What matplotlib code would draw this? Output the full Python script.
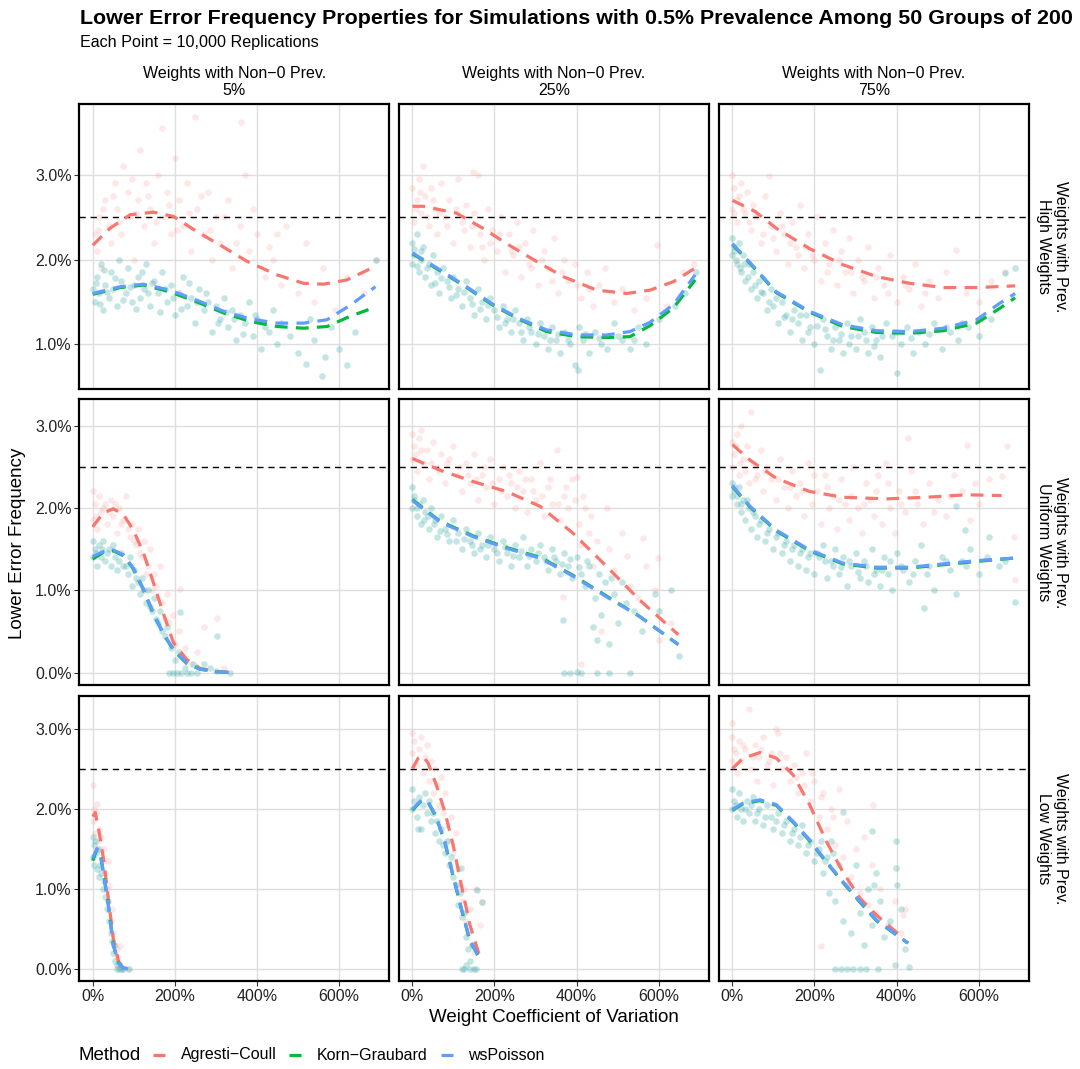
import numpy as np
import matplotlib
matplotlib.use("Agg")
import matplotlib.pyplot as plt
from matplotlib.lines import Line2D

plt.rcParams['font.family'] = ['Liberation Sans', 'DejaVu Sans']

# ---------------- DATA ----------------
methods = ["Agresti\u2212Coull", "Korn\u2212Graubard", "wsPoisson"]
col_labels = ["Weights with Non\u22120 Prev.\n5%", "Weights with Non\u22120 Prev.\n25%", "Weights with Non\u22120 Prev.\n75%"]
row_labels = ["Weights with Prev.\nHigh Weights", "Weights with Prev.\nUniform Weights", "Weights with Prev.\nLow Weights"]
x_ticks = [0, 200, 400, 600]
x_ticklabels = ["0%", "200%", "400%", "600%"]
y_ticks_rows = [[1, 2, 3], [0, 1, 2, 3], [0, 1, 2, 3]]
target_level = 2.5

# scatter points (x = weight CV in %, y = lower error frequency in %); KW = Korn-Graubard / wsPoisson (overlapping)
AC_11 = [(5,2.3),(10,2.1),(15,2.5),(20,1.9),(30,2.7),(40,2.4),(45,2.2),(55,2.9),(60,2.6),(70,2.3),(75,3.1),(85,2.8),(90,2.5),(100,2.0),(110,2.7),(115,3.3),(125,2.4),(130,2.9),(140,2.6),(150,2.2),(160,3.0),(170,3.55),(175,2.5),(180,2.8),(190,2.3),(200,3.2),(210,2.7),(220,2.4),(230,2.9),(240,2.1),(250,3.69),(255,2.6),(270,2.3),(280,2.8),(290,2.0),(300,2.5),(310,2.2),(330,2.7),(340,1.9),(362,3.63),(360,2.4),(370,3.0),(380,2.1),(400,2.3),(420,1.8),(440,2.0),(460,1.7),(470,2.4),(500,1.6),(520,2.2),(540,1.5),(560,1.9),(590,1.4),(620,1.8),(660,1.6),(690,2.0),
         (12,2.35),(25,2.6),(50,2.75),(65,2.45),(95,2.95),(105,2.55),(135,2.75),(155,2.45),(185,2.65),(205,2.35),(235,2.55),(265,2.75),(285,2.35),(320,2.5),(350,2.2),(390,2.6),(430,2.15),(450,2.3)]
KW_11 = [(0,1.65),(5,1.5),(10,1.8),(15,1.6),(20,1.95),(25,1.4),(30,1.7),(40,1.55),(45,1.85),(50,1.65),(60,1.45),(65,2.0),(70,1.75),(80,1.6),(85,1.9),(95,1.5),(100,1.7),(110,1.8),(115,1.55),(125,1.65),(130,1.95),(140,1.45),(150,1.75),(160,1.6),(170,1.85),(180,1.5),(190,1.7),(200,1.35),(210,1.6),(220,1.8),(230,1.45),(240,1.55),(250,1.25),(260,1.65),(270,1.4),(280,1.5),(290,1.15),(300,1.45),(310,1.3),(320,1.55),(330,1.2),(340,1.4),(350,1.05),(360,1.35),(370,1.25),(380,1.5),(390,1.1),(400,1.3),(410,0.95),(420,1.2),(440,1.4),(450,1.0),(460,1.25),(480,1.1),(500,0.9),(520,0.77),(530,1.3),(540,1.05),(559,0.63),(565,0.85),(580,1.2),(600,0.95),(620,0.75),(640,1.15),(690,2.0),
         (8,1.72),(18,1.48),(28,1.88),(35,1.62),(55,1.78),(75,1.52),(90,1.68),(105,1.42),(120,1.85),(135,1.6),(145,1.72),(165,1.38),(175,1.65),(195,1.55),(215,1.42),(235,1.72),(255,1.5),(275,1.6),(305,1.25),(325,1.38),(345,1.3),(365,1.12),(395,1.35),(430,1.15)]
AC_12 = [(0,2.85),(5,2.45),(10,2.7),(15,2.95),(20,2.55),(26,3.1),(30,2.75),(40,2.4),(45,2.85),(55,2.6),(60,2.3),(70,2.9),(80,2.5),(90,2.7),(100,2.2),(110,2.95),(120,2.45),(130,2.65),(140,2.15),(148,3.03),(150,2.55),(160,3.0),(165,2.3),(175,2.0),(185,2.6),(195,2.35),(205,2.1),(215,2.5),(225,1.85),(235,2.3),(245,2.05),(255,2.45),(265,1.8),(275,2.2),(285,1.95),(295,2.35),(305,1.7),(320,2.1),(330,1.9),(345,2.25),(355,1.6),(370,2.0),(380,1.75),(395,1.95),(410,1.55),(425,1.85),(440,1.45),(455,1.7),(470,1.9),(490,1.5),(510,1.65),(540,1.4),(570,1.55),(595,2.17),(620,1.45),(660,1.85),(685,1.95),
         (8,2.6),(18,2.8),(35,2.5),(50,2.7),(65,2.55),(85,2.4),(105,2.6),(125,2.35),(145,2.4),(170,2.15),(190,2.2),(210,2.3),(240,2.1),(260,2.15),(290,1.9),(315,2.0),(340,1.75),(365,1.85),(400,1.7),(430,1.65)]
KW_12 = [(0,2.2),(0,1.95),(5,2.05),(10,2.3),(15,1.85),(20,2.0),(25,2.15),(30,1.8),(40,1.95),(45,1.7),(50,2.05),(60,1.85),(65,1.6),(75,1.9),(85,1.75),(95,1.55),(100,1.8),(110,1.65),(120,1.45),(130,1.75),(140,1.55),(150,1.35),(160,1.65),(170,1.5),(180,1.3),(190,1.55),(200,1.4),(210,1.2),(220,1.45),(230,1.3),(240,1.15),(250,1.4),(260,1.25),(270,1.05),(280,1.3),(290,1.15),(300,1.0),(310,1.25),(320,1.1),(330,0.95),(340,1.2),(350,1.05),(360,0.9),(370,1.15),(385,1.0),(395,0.75),(404,0.7),(405,1.2),(415,1.05),(430,0.9),(445,1.15),(460,1.0),(475,0.95),(490,1.25),(510,1.05),(530,0.95),(550,1.2),(570,1.0),(600,1.3),(640,1.45),(665,1.6),(690,1.85),
         (3,2.12),(12,1.92),(22,2.1),(35,1.9),(55,1.72),(70,1.78),(90,1.68),(105,1.58),(125,1.62),(145,1.48),(165,1.42),(185,1.46),(205,1.32),(225,1.25),(245,1.3),(265,1.15),(285,1.2),(305,1.12),(335,1.05),(355,1.12),(380,1.05),(420,1.12),(455,1.08),(500,1.1),(540,1.05)]
AC_13 = [(0,3.0),(0,2.6),(5,2.85),(10,2.45),(15,2.75),(20,2.9),(30,2.55),(35,2.8),(45,2.35),(50,2.65),(60,2.5),(70,2.2),(80,2.75),(90,2.99),(95,2.4),(105,2.1),(115,2.55),(125,2.3),(135,1.95),(145,2.45),(155,2.15),(165,2.65),(175,1.9),(185,2.3),(195,2.05),(205,2.5),(215,1.75),(225,2.2),(235,1.95),(245,2.35),(255,1.7),(265,2.1),(275,1.85),(285,2.25),(295,1.6),(305,2.0),(315,1.8),(330,2.15),(345,1.55),(355,1.9),(370,1.7),(385,2.05),(400,1.5),(415,1.8),(430,1.65),(445,1.95),(460,1.45),(480,1.75),(500,1.55),(520,1.85),(546,2.11),(570,1.6),(600,1.5),(630,1.75),(665,1.85),
         (3,2.55),(12,2.7),(25,2.6),(40,2.45),(55,2.55),(75,2.3),(100,2.25),(120,2.4),(140,2.2),(160,2.05),(180,2.15),(200,2.0),(230,1.85),(260,2.0),(290,1.85),(320,1.75),(350,1.8),(380,1.6),(420,1.7),(470,1.6)]
KW_13 = [(0,2.25),(0,2.05),(5,2.15),(10,1.95),(15,2.2),(20,1.85),(25,2.05),(30,1.75),(40,1.95),(45,1.65),(50,1.85),(60,1.55),(65,1.75),(75,1.6),(85,1.4),(95,1.65),(100,1.45),(110,1.25),(120,1.5),(130,1.35),(140,1.15),(150,1.4),(160,1.25),(170,1.05),(180,1.35),(190,1.2),(200,1.0),(213,0.7),(220,1.3),(230,1.1),(240,0.95),(250,1.2),(260,1.05),(270,0.9),(280,1.25),(290,1.1),(300,0.95),(310,1.3),(320,1.15),(330,0.9),(340,1.2),(350,1.05),(360,0.85),(375,1.25),(390,1.1),(400,0.66),(410,1.0),(425,1.2),(440,0.9),(455,1.15),(470,1.0),(490,1.25),(510,0.95),(530,1.15),(550,1.05),(575,1.2),(600,1.1),(630,1.3),(665,1.84),(689,1.9),
         (3,2.1),(8,2.0),(18,1.9),(28,1.95),(38,1.8),(55,1.7),(70,1.62),(90,1.5),(105,1.55),(125,1.32),(145,1.3),(165,1.35),(185,1.15),(205,1.22),(225,1.18),(245,1.05),(265,1.12),(285,1.0),(305,1.1),(325,1.05),(345,0.98),(365,1.1),(395,1.15),(435,1.08),(480,1.12),(520,1.2),(560,1.25)]
AC_21 = [(0,2.2),(0,1.85),(5,2.05),(10,1.75),(15,2.15),(20,1.95),(30,2.05),(35,1.8),(45,2.1),(50,1.9),(60,1.7),(65,2.0),(75,1.85),(80,2.15),(90,1.65),(95,1.8),(105,1.55),(110,1.75),(120,1.4),(125,1.6),(135,1.3),(140,1.5),(150,1.2),(155,1.05),(165,1.3),(170,0.85),(180,0.95),(185,0.6),(195,0.7),(200,0.35),(210,0.5),(213,1.01),(215,0.2),(225,0.3),(240,0.1),(255,0.25),(270,0.55),(302,0.66),(320,0.05),
         (8,1.9),(25,2.0),(40,1.95),(55,2.05),(70,1.8),(85,1.75),(100,1.6),(115,1.45),(130,1.2),(145,1.0),(160,0.9),(175,0.65)]
KW_21 = [(0,1.6),(0,1.4),(5,1.5),(10,1.3),(15,1.55),(20,1.4),(25,1.6),(30,1.35),(40,1.5),(45,1.3),(50,1.55),(55,1.4),(60,1.25),(70,1.45),(75,1.3),(85,1.2),(90,1.4),(95,1.05),(100,1.25),(110,1.1),(115,0.95),(120,1.15),(130,0.85),(135,1.0),(145,0.75),(150,0.9),(160,0.6),(165,0.75),(175,0.45),(180,0.55),(185,0.0),(190,0.3),(195,0.0),(200,0.15),(205,0.0),(210,0.25),(213,0.74),(215,0.0),(225,0.05),(230,0.0),(240,0.0),(245,0.1),(255,0.0),(270,0.1),(285,0.05),(300,0.02),(302,0.44),(335,0.0),
         (8,1.45),(22,1.5),(35,1.45),(65,1.35),(80,1.3),(105,1.15),(125,1.0),(140,0.8),(155,0.65),(170,0.5)]
AC_22 = [(0,2.9),(0,2.6),(5,2.75),(10,2.45),(15,2.85),(20,2.95),(25,2.55),(35,2.7),(40,2.35),(50,2.8),(60,2.5),(70,2.65),(80,2.3),(90,2.6),(100,2.75),(110,2.4),(120,2.2),(130,2.55),(140,2.3),(150,2.65),(160,2.1),(170,2.4),(180,2.25),(190,2.6),(200,2.05),(210,2.35),(220,2.5),(230,2.15),(240,2.3),(250,2.0),(260,2.45),(270,2.2),(280,1.95),(290,2.35),(300,2.1),(310,2.55),(320,1.9),(330,2.25),(340,2.05),(353,2.71),(360,1.85),(367,0.92),(370,2.15),(380,2.0),(390,2.35),(400,2.38),(405,1.8),(410,1.55),(412,0.1),(420,2.0),(430,1.7),(440,1.3),(450,1.6),(460,0.5),(473,2.0),(480,1.5),(490,1.25),(510,1.7),(522,1.41),(530,1.05),(550,0.9),(562,1.63),(570,1.3),(590,1.0),(598,1.39),(600,0.4),(630,0.6),
         (8,2.65),(22,2.7),(45,2.55),(65,2.45),(85,2.55),(115,2.5),(135,2.4),(155,2.35),(175,2.5),(195,2.3),(215,2.2),(235,2.4),(255,2.25),(275,2.35),(295,2.2),(315,2.15),(335,2.35),(355,2.05),(375,2.25),(395,2.1),(415,2.15),(435,1.9)]
KW_22 = [(0,2.25),(0,2.0),(5,2.15),(10,1.9),(15,2.05),(20,1.8),(25,2.1),(30,1.95),(40,1.75),(45,2.0),(55,1.85),(60,1.65),(70,1.9),(80,1.75),(90,1.6),(100,1.85),(110,1.7),(120,1.5),(130,1.75),(140,1.6),(150,1.45),(160,1.7),(170,1.55),(180,1.4),(190,1.65),(200,1.5),(210,1.35),(220,1.6),(230,1.45),(240,1.3),(250,1.55),(260,1.4),(270,1.65),(280,1.3),(290,1.5),(300,1.35),(310,1.55),(320,1.4),(330,1.25),(340,1.5),(350,1.35),(360,1.2),(367,0.64),(370,1.45),(380,1.3),(390,1.15),(400,1.4),(410,1.2),(420,1.05),(430,1.3),(440,0.55),(445,0.9),(450,0.4),(460,0.7),(470,1.1),(480,0.35),(490,0.95),(500,0.6),(520,0.85),(540,0.75),(560,0.5),(590,0.95),(600,0.75),(630,1.0),(650,0.2),(370,0.0),(385,0.0),(400,0.01),(410,0.0),(450,0.0),(480,0.0),(530,0.0),
         (3,2.1),(12,2.0),(28,1.85),(38,1.9),(52,1.8),(68,1.72),(85,1.68),(105,1.6),(125,1.62),(145,1.55),(165,1.5),(185,1.55),(205,1.45),(225,1.52),(245,1.42),(265,1.48),(285,1.42),(305,1.45),(325,1.35),(345,1.4),(365,1.32),(385,1.38),(405,1.28),(425,1.35),(455,1.2),(485,1.15),(510,1.1)]
AC_23 = [(0,2.8),(0,2.5),(5,2.65),(10,2.9),(15,2.4),(20,3.0),(25,2.6),(35,2.75),(40,2.3),(46,3.16),(50,2.55),(60,2.4),(70,2.7),(75,2.2),(85,2.5),(95,2.35),(105,2.1),(115,2.6),(125,2.25),(135,2.0),(145,2.45),(155,2.15),(165,2.3),(175,1.9),(185,2.55),(195,2.05),(205,2.2),(215,1.8),(225,2.4),(235,2.0),(245,2.15),(255,1.75),(265,2.35),(275,2.05),(285,1.85),(295,2.5),(305,2.0),(315,1.7),(325,2.3),(335,2.1),(345,1.9),(355,2.4),(365,1.8),(375,2.55),(385,2.0),(395,1.7),(405,2.2),(420,1.95),(428,2.85),(435,2.45),(450,2.05),(465,1.8),(480,2.3),(500,2.1),(520,1.9),(540,2.4),(560,2.2),(571,2.77),(580,1.85),(600,2.05),(625,2.35),(656,2.39),(670,2.75),(685,1.65),(689,1.12),
         (8,2.75),(18,2.55),(30,2.45),(55,2.35),(80,2.45),(110,2.35),(140,2.25),(170,2.2),(200,2.4),(230,2.25),(260,2.1),(290,2.15),(320,2.05),(350,2.2),(380,2.3),(410,2.05),(445,2.2),(490,1.95),(530,2.15),(590,2.3)]
KW_23 = [(0,2.3),(0,2.15),(5,2.2),(10,2.05),(15,2.25),(20,1.95),(25,2.1),(30,1.85),(40,2.0),(45,1.75),(55,1.9),(60,1.65),(70,1.85),(80,1.6),(90,1.75),(100,1.5),(110,1.7),(120,1.45),(130,1.6),(140,1.35),(150,1.55),(160,1.3),(170,1.5),(180,1.25),(190,1.45),(200,1.2),(210,1.4),(220,1.55),(230,1.15),(240,1.35),(250,1.5),(260,1.2),(270,1.4),(280,1.05),(290,1.3),(300,1.45),(310,1.15),(320,1.35),(330,1.1),(340,1.5),(350,1.25),(360,1.05),(370,1.4),(380,1.2),(390,1.0),(400,1.45),(415,1.25),(430,1.1),(445,1.35),(460,1.55),(467,0.78),(475,1.2),(490,1.0),(510,1.4),(530,1.25),(545,0.95),(546,2.02),(560,1.35),(566,1.73),(580,1.5),(600,1.2),(625,1.65),(650,1.3),(665,1.35),(689,0.86),
         (3,2.25),(12,2.15),(22,2.05),(35,2.1),(50,1.95),(65,1.8),(85,1.7),(105,1.65),(125,1.55),(145,1.5),(165,1.45),(185,1.4),(205,1.45),(225,1.35),(245,1.3),(265,1.28),(285,1.35),(305,1.22),(325,1.3),(345,1.2),(365,1.25),(385,1.35),(410,1.3),(440,1.2),(480,1.3),(520,1.35),(570,1.3),(620,1.4)]
AC_31 = [(0,2.3),(0,1.85),(3,2.0),(5,1.7),(8,1.95),(11,2.06),(12,1.6),(15,1.75),(18,1.5),(20,1.65),(25,1.35),(28,1.5),(30,1.2),(35,1.0),(38,1.34),(40,1.05),(45,0.6),(48,0.75),(50,0.45),(55,0.3),(58,0.15),(60,0.25),(65,0.05),(66,0.29),(75,0.0),(85,0.0)]
KW_31 = [(0,1.65),(0,1.4),(2,1.55),(4,1.3),(6,1.6),(8,1.45),(10,1.25),(12,1.5),(15,1.15),(18,1.3),(20,1.2),(25,1.0),(28,1.1),(30,0.9),(35,0.75),(38,0.85),(40,0.6),(45,0.45),(48,0.35),(50,0.2),(52,0.3),(55,0.1),(58,0.0),(60,0.05),(65,0.0),(70,0.0),(75,0.0),(88,0.0)]
AC_32 = [(0,2.95),(0,2.7),(5,2.85),(10,2.55),(15,2.75),(20,2.9),(25,2.45),(30,2.65),(35,2.8),(40,2.35),(45,2.6),(50,2.2),(55,2.5),(60,2.3),(65,2.05),(70,2.4),(75,1.95),(80,2.2),(85,1.8),(90,1.6),(95,1.9),(100,1.45),(105,1.7),(110,1.25),(115,1.05),(120,0.85),(125,1.0),(130,0.6),(135,0.45),(140,0.75),(145,0.3),(150,0.2),(156,1.0),(165,0.55),(170,0.83)]
KW_32 = [(0,2.25),(0,2.0),(5,2.1),(10,1.9),(14,1.75),(15,2.15),(20,1.75),(25,2.05),(30,2.2),(35,1.95),(40,2.1),(45,1.85),(50,1.95),(55,1.7),(60,1.85),(65,1.6),(70,1.75),(75,1.55),(80,1.45),(85,1.6),(90,1.3),(95,1.4),(100,1.15),(105,1.05),(110,0.8),(115,0.95),(119,1.26),(120,0.65),(125,0.7),(130,0.4),(135,0.25),(140,0.1),(145,0.3),(157,0.98),(170,0.83),(120,0.0),(125,0.0),(130,0.05),(140,0.0),(150,0.0),(155,0.0)]
AC_33 = [(0,2.9),(0,2.6),(0,3.07),(5,2.75),(10,2.45),(15,2.85),(20,2.6),(30,2.75),(40,3.25),(45,2.5),(55,2.8),(60,2.35),(65,2.65),(75,2.9),(85,2.55),(95,2.7),(100,2.3),(107,3.0),(110,2.95),(120,2.5),(130,2.65),(140,2.35),(150,2.55),(160,2.2),(170,2.45),(180,2.7),(190,2.1),(200,2.35),(210,1.9),(217,0.28),(220,2.2),(230,1.75),(240,2.0),(250,1.55),(260,2.25),(270,1.4),(280,1.85),(290,1.15),(300,1.5),(310,0.95),(320,1.65),(330,0.8),(340,1.3),(343,2.05),(350,0.7),(360,1.0),(380,0.55),(395,0.85),(410,0.45),(416,0.67),(420,0.75),
         (8,2.7),(25,2.8),(50,2.65),(70,2.75),(90,2.6),(115,2.7),(135,2.5),(155,2.4),(175,2.3),(195,2.45),(215,2.15),(245,1.9)]
KW_33 = [(0,2.25),(0,2.0),(5,2.1),(10,1.9),(15,2.2),(20,2.0),(25,1.85),(35,2.1),(40,1.95),(50,2.15),(55,1.85),(65,2.0),(75,1.8),(85,2.05),(95,1.9),(100,1.75),(110,1.95),(120,1.7),(130,1.85),(140,1.6),(150,1.75),(160,1.55),(170,1.8),(180,1.45),(190,1.6),(200,1.35),(210,1.5),(220,1.2),(230,1.4),(235,0.95),(240,1.6),(250,0.85),(260,1.3),(270,1.96),(270,0.6),(280,1.05),(290,0.45),(300,1.3),(310,0.7),(320,0.3),(330,1.0),(339,1.72),(340,0.55),(344,1.05),(350,1.2),(360,0.85),(370,0.4),(385,0.6),(398,1.59),(398,1.26),(400,1.05),(410,0.75),(420,0.25),(430,0.02),(250,0.0),(265,0.0),(280,0.0),(295,0.0),(310,0.0),(325,0.0),(355,0.0),(395,0.05),
         (8,2.05),(30,2.0),(45,2.05),(60,1.95),(80,1.9),(105,1.85),(125,1.8),(145,1.7),(165,1.65),(185,1.55),(205,1.45),(215,1.6),(225,1.35),(245,1.45)]

# smoothed fits (x knots, y values) per panel: AC, KG, WS
AC_fit_11 = ([0,42,91,148,197,254,311,376,449,514,562,619,680,690], [2.17,2.37,2.53,2.56,2.51,2.33,2.17,1.98,1.82,1.72,1.71,1.76,1.90,1.93])
KG_fit_11 = ([0,67,124,188,254,319,384,449,514,571,627,689], [1.59,1.67,1.70,1.62,1.50,1.37,1.27,1.21,1.19,1.21,1.33,1.44])
WS_fit_11 = ([0,67,124,188,254,319,384,449,514,571,627,689], [1.60,1.68,1.71,1.64,1.52,1.39,1.30,1.25,1.25,1.29,1.46,1.68])
AC_fit_12 = ([0,26,107,172,229,302,367,449,522,579,636,689], [2.63,2.63,2.55,2.37,2.19,1.98,1.80,1.64,1.60,1.64,1.74,1.90])
KG_fit_12 = ([0,67,132,197,262,327,400,473,530,579,636,689], [2.07,1.87,1.67,1.46,1.29,1.15,1.09,1.08,1.09,1.22,1.43,1.76])
WS_fit_12 = ([0,67,132,197,262,327,400,473,530,579,636,689], [2.08,1.88,1.68,1.47,1.30,1.17,1.11,1.11,1.15,1.26,1.47,1.82])
AC_fit_13 = ([0,55,107,188,269,351,432,514,595,689], [2.70,2.57,2.37,2.13,1.94,1.80,1.72,1.67,1.67,1.69])
KG_fit_13 = ([0,55,107,188,269,351,432,514,595,650,689], [2.18,1.89,1.61,1.38,1.21,1.14,1.13,1.16,1.25,1.42,1.55])
WS_fit_13 = ([0,55,107,188,269,351,432,514,595,650,689], [2.19,1.90,1.62,1.39,1.23,1.16,1.15,1.19,1.29,1.48,1.60])
AC_fit_21 = ([0,26,50,75,99,124,148,172,197,229,262,303,335], [1.77,1.94,1.99,1.92,1.73,1.45,1.09,0.72,0.36,0.16,0.05,0.01,0.0])
KG_fit_21 = ([0,26,50,75,99,124,148,172,197,229,262,303,335], [1.38,1.46,1.48,1.42,1.26,1.00,0.71,0.47,0.27,0.11,0.04,0.01,0.0])
WS_fit_21 = ([0,26,50,75,99,124,148,172,197,229,262,303,335], [1.41,1.47,1.49,1.43,1.27,1.01,0.72,0.48,0.28,0.12,0.04,0.01,0.0])
AC_fit_22 = ([0,67,148,229,311,392,473,554,648], [2.60,2.46,2.32,2.20,2.02,1.69,1.29,0.88,0.46])
KG_fit_22 = ([0,67,148,229,311,392,473,554,648], [2.10,1.84,1.66,1.52,1.40,1.18,0.93,0.68,0.34])
WS_fit_22 = ([0,67,148,229,311,392,473,554,648], [2.09,1.83,1.65,1.51,1.39,1.17,0.92,0.68,0.34])
AC_fit_23 = ([0,43,107,188,269,375,473,571,656], [2.77,2.58,2.36,2.20,2.13,2.11,2.13,2.16,2.15])
KG_fit_23 = ([0,43,107,188,269,351,432,514,595,685], [2.26,2.01,1.72,1.48,1.32,1.27,1.27,1.31,1.35,1.39])
WS_fit_23 = ([0,43,107,188,269,351,432,514,595,685], [2.27,2.02,1.73,1.49,1.33,1.28,1.28,1.32,1.36,1.39])
AC_fit_31 = ([0,6,14,26,38,50,63,75,87], [1.90,1.95,1.76,1.38,0.88,0.38,0.09,0.02,0.0])
KG_fit_31 = ([0,10,18,26,38,50,63,75,87], [1.35,1.49,1.44,1.20,0.80,0.30,0.07,0.01,0.0])
WS_fit_31 = ([0,10,18,26,38,50,63,75,87], [1.38,1.50,1.45,1.21,0.80,0.30,0.07,0.01,0.0])
AC_fit_32 = ([0,14,25,38,58,79,99,119,140,168], [2.50,2.63,2.66,2.57,2.30,1.96,1.55,1.05,0.55,0.09])
KG_fit_32 = ([0,22,38,58,79,99,119,140,168], [1.98,2.10,2.08,1.89,1.58,1.16,0.75,0.35,0.09])
WS_fit_32 = ([0,22,38,58,79,99,119,140,168], [1.99,2.11,2.09,1.90,1.59,1.17,0.76,0.36,0.09])
AC_fit_33 = ([0,26,67,107,148,188,229,269,311,351,408], [2.50,2.63,2.70,2.63,2.42,2.05,1.59,1.21,0.88,0.67,0.42])
KG_fit_33 = ([0,26,67,107,148,188,229,269,311,351,428], [1.98,2.06,2.10,2.04,1.83,1.60,1.33,1.08,0.83,0.60,0.32])
WS_fit_33 = ([0,26,67,107,148,188,229,269,311,351,428], [1.99,2.07,2.11,2.05,1.84,1.61,1.34,1.09,0.84,0.61,0.32])

points = {
    (0, 0): (AC_11, KW_11), (0, 1): (AC_12, KW_12), (0, 2): (AC_13, KW_13),
    (1, 0): (AC_21, KW_21), (1, 1): (AC_22, KW_22), (1, 2): (AC_23, KW_23),
    (2, 0): (AC_31, KW_31), (2, 1): (AC_32, KW_32), (2, 2): (AC_33, KW_33),
}
fits = {
    (0, 0): (AC_fit_11, KG_fit_11, WS_fit_11), (0, 1): (AC_fit_12, KG_fit_12, WS_fit_12), (0, 2): (AC_fit_13, KG_fit_13, WS_fit_13),
    (1, 0): (AC_fit_21, KG_fit_21, WS_fit_21), (1, 1): (AC_fit_22, KG_fit_22, WS_fit_22), (1, 2): (AC_fit_23, KG_fit_23, WS_fit_23),
    (2, 0): (AC_fit_31, KG_fit_31, WS_fit_31), (2, 1): (AC_fit_32, KG_fit_32, WS_fit_32), (2, 2): (AC_fit_33, KG_fit_33, WS_fit_33),
}

# ---------------- STYLE / LAYOUT ----------------
colors = ["#F8766D", "#00BA38", "#619CFF"]
W, H = 1080, 1069
fig = plt.figure(figsize=(W / 100, H / 100), dpi=100)
fig.patch.set_facecolor("white")

col_left = [79.3, 399.0, 719.0]
panel_w = 310.0
row_top = [104.0, 399.3, 695.7]
panel_h = [285.0, 286.0, 285.5]
ylims = [(0.472, 3.838), (-0.155, 3.32), (-0.155, 3.41)]
xlim = (-32.7, 722.7)
grid_col = "#DEDEDE"

for r in range(3):
    for c in range(3):
        rect = [col_left[c] / W, 1 - (row_top[r] + panel_h[r]) / H, panel_w / W, panel_h[r] / H]
        ax = fig.add_axes(rect)
        ax.set_xlim(*xlim)
        ax.set_ylim(*ylims[r])
        ax.set_xticks(x_ticks)
        ax.set_yticks(y_ticks_rows[r])
        ax.grid(True, color=grid_col, linewidth=1.0, zorder=0)
        ax.set_axisbelow(True)
        for s in ax.spines.values():
            s.set_linewidth(1.6)
            s.set_color("black")
            s.set_zorder(10)
        if c == 0:
            ax.set_yticklabels([f"{v:.1f}%" for v in y_ticks_rows[r]], fontsize=11.5, color="#222222")
            ax.tick_params(axis="y", length=3.5, width=0.8, color="#333333", pad=2)
        else:
            ax.tick_params(axis="y", length=0, labelleft=False)
        if r == 2:
            ax.set_xticklabels(x_ticklabels, fontsize=11.5, color="#222222")
            ax.tick_params(axis="x", length=3.5, width=0.8, color="#333333", pad=2)
        else:
            ax.tick_params(axis="x", length=0, labelbottom=False)

        ac_pts, kw_pts = points[(r, c)]
        ac = np.array(ac_pts)
        kw = np.array(kw_pts)
        ax.scatter(ac[:, 0], ac[:, 1], s=22, color=colors[0], alpha=0.16, linewidths=0, zorder=2)
        ax.scatter(kw[:, 0], kw[:, 1], s=22, color=colors[1], alpha=0.16, linewidths=0, zorder=2)
        ax.scatter(kw[:, 0], kw[:, 1], s=22, color=colors[2], alpha=0.16, linewidths=0, zorder=2)

        ax.axhline(target_level, color="black", linewidth=1.0, linestyle=(0, (4.5, 3.5)), zorder=3)

        for k, (fx, fy) in enumerate(fits[(r, c)]):
            ax.plot(fx, fy, color=colors[k], linewidth=2.3, linestyle=(0, (4.0, 2.6)),
                    solid_capstyle="butt", dash_capstyle="butt", zorder=4 + k)

        if r == 0:
            ax.text(0.5, 1.0 + 22 / panel_h[r], col_labels[c], transform=ax.transAxes,
                    ha="center", va="center", fontsize=11.5, linespacing=1.2)
        if c == 2:
            ax.text(1.0 + 23 / panel_w, 0.5, row_labels[r], transform=ax.transAxes,
                    ha="center", va="center", rotation=-90, fontsize=11.5, linespacing=1.2)

# titles
fig.text(80 / W, 1 - 19 / H, "Lower Error Frequency Properties for Simulations with 0.5% Prevalence Among 50 Groups of 200",
         ha="left", va="center", fontsize=15.4, fontweight="bold")
fig.text(80 / W, 1 - 43 / H, "Each Point = 10,000 Replications", ha="left", va="center", fontsize=11.6)
fig.text(18 / W, 1 - 543 / H, "Lower Error Frequency", ha="center", va="center", rotation=90, fontsize=13.5)
fig.text(554 / W, 1 - 1017 / H, "Weight Coefficient of Variation", ha="center", va="center", fontsize=13.5)

# legend
ly = 1 - 1055 / H
fig.text(79 / W, ly, "Method", ha="left", va="center", fontsize=13.5)
key_x = [153, 289, 441]
lab_x = [181, 317, 468]
for k in range(3):
    fig.add_artist(Line2D([key_x[k] / W, (key_x[k] + 12) / W], [ly, ly], color=colors[k], linewidth=2.3,
                          solid_capstyle="butt", transform=fig.transFigure))
    fig.text(lab_x[k] / W, ly, methods[k], ha="left", va="center", fontsize=11.5)

fig.savefig("out.png", dpi=100, facecolor="white")
